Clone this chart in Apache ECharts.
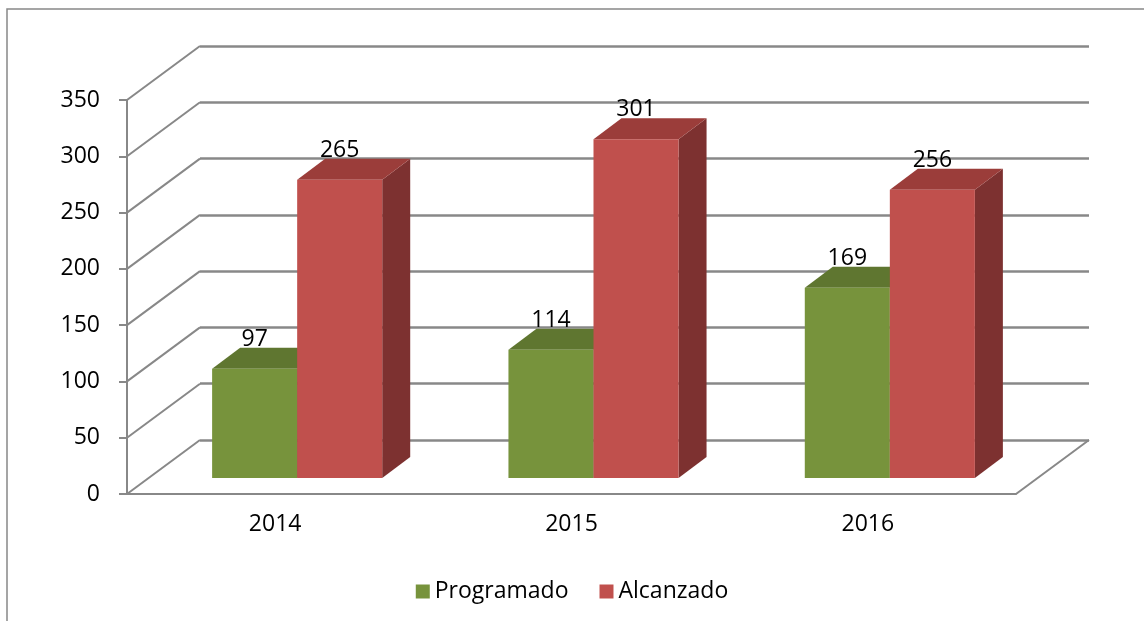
<!DOCTYPE html>
<html lang="es">
<head>
    <meta charset="UTF-8">
    <title>Programado vs Alcanzado</title>
    <script src="https://cdn.jsdelivr.net/npm/echarts@6/dist/echarts.min.js"></script>
    <style>
        html, body {margin: 0; padding: 0; background: #fff;}
        #main {width: 1144px; height: 621px;}
    </style>
</head>
<body>
<div id="main"></div>
<script type="text/javascript">
    // datos
    var years = ['2014', '2015', '2016'];
    var programado = [97, 114, 169];
    var alcanzado = [265, 301, 256];
    var yTicks = [0, 50, 100, 150, 200, 250, 300, 350];

    // "3D" look: wall depth and bar depth in pixels
    var WALL_DX = 73, WALL_DY = 54;
    var FRONT_DX = 22, FRONT_DY = 16;   // bar front face, pushed back from the front plane
    var BAR_DX = 28, BAR_DY = 21;       // bar depth
    var BAR_RATIO = 0.287;              // bar width / category width
    var GRID = {left: 127, right: 128, top: 100, bottom: 127};
    var FONT = '"Open Sans", "Noto Sans", sans-serif';
    var FSIZE = 23;
    var LINE = '#888888';

    function barItem(left, faces) {
        return function (params, api) {
            var base = api.coord([api.value(0), 0]);
            var top = api.coord([api.value(0), api.value(1)]);
            var band = api.size([1, 0])[0];
            var w = band * BAR_RATIO;
            var x0 = base[0] + (left ? -w : 0) + FRONT_DX;
            var yb = base[1] - FRONT_DY;
            var yt = top[1] - FRONT_DY;
            return {
                type: 'group',
                children: [
                    {type: 'polygon', shape: {points: [[x0 + w, yt], [x0 + w + BAR_DX, yt - BAR_DY], [x0 + w + BAR_DX, yb - BAR_DY], [x0 + w, yb]]},
                        style: {fill: faces.side}},
                    {type: 'polygon', shape: {points: [[x0, yt], [x0 + w, yt], [x0 + w + BAR_DX, yt - BAR_DY], [x0 + BAR_DX, yt - BAR_DY]]},
                        style: {fill: faces.top}},
                    {type: 'rect', shape: {x: x0, y: yt, width: w, height: yb - yt},
                        style: {fill: faces.front}},
                    {type: 'text', z2: 10, style: {text: String(api.value(1)), x: x0 + w / 2, y: yt - BAR_DY + 3,
                        align: 'center', verticalAlign: 'bottom', font: FSIZE + 'px ' + FONT, fill: '#000'}}
                ]
            };
        };
    }

    function wallItem(params, api) {
        var v = api.value(1);
        var p = api.coord([0, v]);
        var band = api.size([1, 0])[0];
        var l = p[0] - band / 2;
        var kids = [{type: 'line', shape: {x1: l, y1: p[1], x2: l + WALL_DX, y2: p[1] - WALL_DY},
            style: {stroke: LINE, lineWidth: 2}}];
        if (v === 0) {
            var q = api.coord([years.length - 1, 0]);
            var r = q[0] + band / 2;
            kids.push({type: 'line', shape: {x1: r, y1: q[1], x2: r + WALL_DX, y2: q[1] - WALL_DY},
                style: {stroke: LINE, lineWidth: 2}});
        }
        return {type: 'group', children: kids};
    }

    var myChart = echarts.init(document.getElementById('main'));
    myChart.setOption({
        animation: false,
        graphic: [{type: 'rect', shape: {x: 7, y: 9, width: 1200, height: 700}, style: {fill: 'none', stroke: LINE, lineWidth: 1.5}, z: -10}],
        legend: {
            data: ['Programado', 'Alcanzado'],
            top: 575, left: 'center',
            icon: 'rect', itemWidth: 14, itemHeight: 14, itemGap: 31,
            textStyle: {fontFamily: FONT, fontSize: FSIZE, color: '#000'}
        },
        grid: [
            GRID,
            {left: GRID.left + WALL_DX, right: GRID.right - WALL_DX, top: GRID.top - WALL_DY, bottom: GRID.bottom + WALL_DY}
        ],
        xAxis: [
            {type: 'category', gridIndex: 0, data: years,
                axisLine: {lineStyle: {color: LINE, width: 2}},
                axisTick: {alignWithLabel: false, length: 7, lineStyle: {color: LINE, width: 2}},
                axisLabel: {margin: 19, fontFamily: FONT, fontSize: FSIZE, color: '#000'}},
            {type: 'category', gridIndex: 1, data: years, show: false}
        ],
        yAxis: [
            {type: 'value', gridIndex: 0, min: 0, max: 350, interval: 50,
                axisLine: {show: true, lineStyle: {color: LINE, width: 2}},
                axisTick: {show: true, length: 8, lineStyle: {color: LINE, width: 2}},
                splitLine: {show: false},
                axisLabel: {margin: 27, fontFamily: FONT, fontSize: FSIZE, color: '#000'}},
            {type: 'value', gridIndex: 1, min: 0, max: 350, interval: 50,
                axisLine: {show: false}, axisTick: {show: false}, axisLabel: {show: false},
                splitLine: {show: true, lineStyle: {color: LINE, width: 2.5}}}
        ],
        series: [
            {name: 'walls', type: 'custom', xAxisIndex: 0, yAxisIndex: 0, silent: true, z: 1,
                data: yTicks.map(function (v) { return [0, v]; }), renderItem: wallItem},
            {name: 'Programado', type: 'custom', xAxisIndex: 0, yAxisIndex: 0, z: 5,
                itemStyle: {color: '#77933C'},
                data: programado.map(function (v, i) { return [i, v]; }),
                renderItem: barItem(true, {front: '#77933C', top: '#5F7630', side: '#4F6228'})},
            {name: 'Alcanzado', type: 'custom', xAxisIndex: 0, yAxisIndex: 0, z: 5,
                itemStyle: {color: '#C0504D'},
                data: alcanzado.map(function (v, i) { return [i, v]; }),
                renderItem: barItem(false, {front: '#C0504D', top: '#9B3D3A', side: '#7D3130'})}
        ]
    });
</script>
</body>
</html>
